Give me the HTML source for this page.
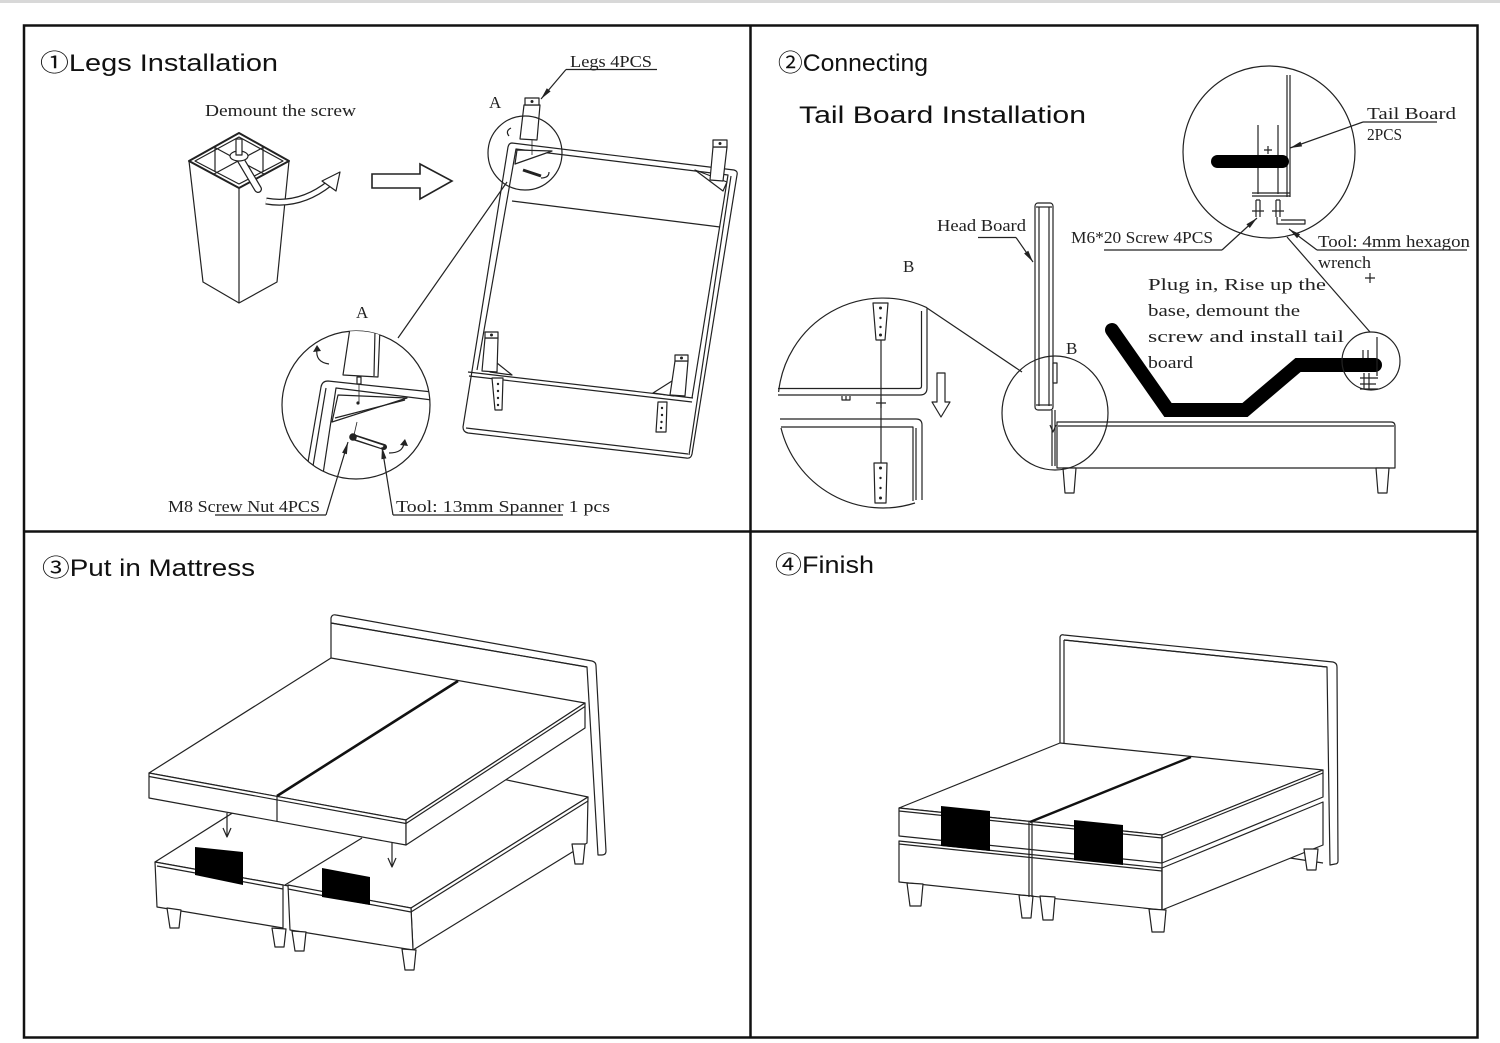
<!DOCTYPE html>
<html><head><meta charset="utf-8"><title>Bed Installation</title>
<style>
html,body{margin:0;padding:0;background:#fff;}
svg{display:block;}
.l{stroke:#222;stroke-width:1.2;fill:none;stroke-linejoin:round;}
.w{stroke:#222;stroke-width:1.2;fill:#fff;stroke-linejoin:round;}
.t{font-family:"Liberation Sans","Noto Sans CJK JP",sans-serif;font-size:24px;fill:#111;}
.s{font-family:"Liberation Serif","Noto Serif CJK SC",serif;font-size:17px;fill:#222;}
</style></head>
<body>
<svg width="1500" height="1043" viewBox="0 0 1500 1043" xmlns="http://www.w3.org/2000/svg">
<rect x="0" y="0" width="1500" height="1043" fill="#fff"/>
<line x1="0" y1="1.5" x2="1500" y2="1.5" stroke="#d8d8d8" stroke-width="3"/>
<!-- frame -->
<rect x="24" y="25.5" width="1453.5" height="1012" fill="none" stroke="#111" stroke-width="2.5"/>
<line x1="750.5" y1="25" x2="750.5" y2="1038" stroke="#111" stroke-width="2.5"/>
<line x1="24" y1="531.5" x2="1478" y2="531.5" stroke="#111" stroke-width="2.5"/>

<!-- titles -->
<text class="t" x="40" y="71" textLength="238" lengthAdjust="spacingAndGlyphs">①Legs Installation</text>
<text class="t" x="778" y="71" textLength="150" lengthAdjust="spacingAndGlyphs">②Connecting</text>
<text class="t" x="799" y="123" textLength="287" lengthAdjust="spacingAndGlyphs">Tail Board Installation</text>
<text class="t" x="42" y="576" textLength="213" lengthAdjust="spacingAndGlyphs">③Put in Mattress</text>
<text class="t" x="775" y="573" textLength="99" lengthAdjust="spacingAndGlyphs">④Finish</text>

<!-- ================= PANEL 1 ================= -->
<text class="s" x="205" y="116" textLength="151" lengthAdjust="spacingAndGlyphs">Demount the screw</text>
<!-- leg -->
<g class="l">
  <path d="M189,161 L203,282 L239,303 L277,282 L289,161"/>
  <line x1="239" y1="188" x2="239" y2="303"/>
  <polygon points="189,161 239,133 289,161 239,188" stroke-width="2"/>
  <polygon points="195,161 239,137 283,161 239,184"/>
  <line x1="214" y1="147" x2="264" y2="174"/>
  <line x1="264" y1="147" x2="214" y2="174"/>
  <line x1="215" y1="148" x2="215" y2="172"/>
  <line x1="263" y1="148" x2="263" y2="172"/>
</g>
<line x1="239" y1="157" x2="258" y2="189" stroke="#222" stroke-width="8" stroke-linecap="round"/>
<line x1="239" y1="157" x2="258" y2="189" stroke="#fff" stroke-width="5.5" stroke-linecap="round"/>
<ellipse cx="239" cy="156" rx="9" ry="5" class="w"/>
<rect x="236" y="139" width="6" height="16" class="w"/>
<!-- curved arrow -->
<path d="M266,201 Q300,207 330,183" stroke="#222" stroke-width="7" fill="none"/>
<path d="M266,201 Q300,207 330,183" stroke="#fff" stroke-width="4.5" fill="none"/>
<polygon points="340,172 336,191 322,181" class="w"/>
<!-- big hollow arrow -->
<polygon points="372,174 420,174 420,164 452,181 420,199 420,188 372,188" fill="none" stroke="#222" stroke-width="1.6"/>

<!-- bed frame (upside down) -->
<path class="w" d="M512,143 L734,170 Q738,171 737,175 L692,454 Q691,459 686,458 L468,433 Q463,432 463,427 L508,147 Q509,143 512,143 Z" stroke-width="1.5"/>
<g class="l">
  <path d="M477,370 L516,149 L728,175 L692,398"/>
  <line x1="731" y1="176" x2="689" y2="455"/>
  <line x1="468" y1="372" x2="693" y2="398"/>
  <line x1="469" y1="376" x2="692" y2="402"/>
  <line x1="466" y1="428" x2="688" y2="454"/>
  <line x1="512" y1="201" x2="720" y2="227"/>
</g>
<!-- brackets -->
<polygon class="w" points="517,150 552,151 515,164"/>
<polygon class="w" points="695,170 727,182 723,191"/>
<polygon class="w" points="497,363 512,375 490,372"/>
<polygon class="w" points="653,393 672,381 674,396"/>
<!-- legs on frame -->
<g>
  <polygon class="w" points="713,147 727,147 723,181 710,180"/>
  <rect class="w" x="713" y="140" width="14" height="7"/>
  <circle cx="720" cy="143.5" r="1.5" fill="#222"/>
  <polygon class="w" points="485,338 498,338 497,372 482,371"/>
  <rect class="w" x="485" y="332" width="13" height="6"/>
  <circle cx="491.5" cy="335" r="1.5" fill="#222"/>
  <polygon class="w" points="675,361 688,361 685,396 670,395"/>
  <rect class="w" x="675" y="355" width="13" height="6"/>
  <circle cx="681.5" cy="358" r="1.5" fill="#222"/>
  <!-- hovering leg -->
  <polygon class="w" points="524,105 540,105 537,140 520,139"/>
  <rect class="w" x="525" y="98" width="14" height="7"/>
  <circle cx="532" cy="101.5" r="1.5" fill="#222"/>
</g>
<!-- strips -->
<polygon class="w" points="492,378 503,378 502,410 495,410"/>
<g fill="#222"><circle cx="498" cy="384" r="1.2"/><circle cx="498" cy="391" r="1.2"/><circle cx="498" cy="398" r="1.2"/><circle cx="498" cy="405" r="1.2"/></g>
<polygon class="w" points="658,402 667,402 666,432 656,432"/>
<g fill="#222"><circle cx="662" cy="408" r="1.2"/><circle cx="662" cy="415" r="1.2"/><circle cx="661.5" cy="422" r="1.2"/><circle cx="661" cy="428" r="1.2"/></g>
<!-- upper circle A -->
<circle cx="525" cy="153" r="37" class="l"/>
<line x1="532" y1="140" x2="532" y2="155" stroke="#222" stroke-width="0.8"/>
<line x1="523" y1="170" x2="541" y2="176" stroke="#222" stroke-width="3"/>
<path d="M511,128 Q505,131 509,136" class="l" stroke-width="2"/>
<path d="M541,178 Q549,178 549,172" class="l" stroke-width="2"/>
<text class="s" x="489" y="108">A</text>
<line x1="507" y1="182" x2="398" y2="338" class="l"/>

<!-- lower circle A -->
<defs><clipPath id="cA"><circle cx="356" cy="405" r="74"/></clipPath></defs>
<circle cx="356" cy="405" r="74" class="l"/>
<g clip-path="url(#cA)">
  <path class="l" d="M308,462 L321,387 Q322,381 328,381 L432,392"/>
  <path class="l" d="M313,466 L326,388"/>
  <path class="l" d="M323,474 L336,388 L432,400"/>
  <polygon class="w" points="338,395 407,398 332,422"/>
  <line x1="335" y1="418" x2="405" y2="400" class="l"/>
  <polygon class="w" points="350,328 380,328 378,377 343,375"/>
  <line x1="375" y1="330" x2="374" y2="376" class="l"/>
  <line x1="359" y1="377" x2="359" y2="403" stroke="#222" stroke-width="0.8"/>
  <rect x="357" y="377" width="4" height="7" class="w"/>
  <circle cx="358" cy="403" r="1.6" fill="#222"/>
  <line x1="357" y1="422" x2="354" y2="435" stroke="#222" stroke-width="0.8"/>
  <line x1="353" y1="437" x2="384" y2="447" stroke="#222" stroke-width="6" stroke-linecap="round"/>
  <line x1="356" y1="438" x2="383" y2="447" stroke="#fff" stroke-width="3"/>
  <circle cx="353" cy="437" r="3.8" fill="#222"/>
  <path d="M329,364 Q315,362 317,349" class="l" stroke-width="2.5"/>
  <polygon points="317,345 313,352 321,351" fill="#222"/>
  <path d="M389,453 Q403,453 404,443" class="l" stroke-width="2.5"/>
  <polygon points="405,439 400,445 408,446" fill="#222"/>
</g>
<text class="s" x="356" y="318">A</text>

<!-- panel 1 labels & leaders -->
<text class="s" x="570" y="67" textLength="82" lengthAdjust="spacingAndGlyphs">Legs 4PCS</text>
<line x1="566" y1="69.5" x2="657" y2="69.5" class="l"/>
<line x1="566" y1="69.5" x2="541" y2="99" class="l"/>
<polygon points="541,99 550.6,91.4 546.8,88.2" fill="#222"/>
<text class="s" x="168" y="512" textLength="152" lengthAdjust="spacingAndGlyphs">M8 Screw Nut 4PCS</text>
<line x1="215" y1="515" x2="326" y2="515" class="l"/>
<line x1="326" y1="515" x2="348" y2="442" class="l"/>
<polygon points="348,442 346.9,454.2 342.1,452.8" fill="#222"/>
<text class="s" x="396" y="512" textLength="214" lengthAdjust="spacingAndGlyphs">Tool: 13mm Spanner 1 pcs</text>
<line x1="393" y1="515" x2="563" y2="515" class="l"/>
<line x1="393" y1="515" x2="382" y2="447" class="l"/>
<polygon points="382,447 386.4,458.4 381.4,459.2" fill="#222"/>

<!-- ================= PANEL 2 ================= -->
<!-- big B circle -->
<path class="l" d="M778.6,392 A105,105 0 0 1 927,307.7"/>
<path class="l" d="M778,395 L920,395 Q927,395 927,388 L927,307.7"/>
<path class="l" d="M778,388.5 L919,388.5 Q921.5,388.5 921.5,386 L921.5,311"/>
<path class="l" d="M781,428 A105,105 0 0 0 915,503"/>
<path class="l" d="M780,419 L916,419 Q922,419 922,425 L922,500"/>
<path class="l" d="M781,427 L913,427 L913,501"/>
<line x1="916" y1="428" x2="916" y2="500" class="l"/>
<polygon class="w" points="873,303 888,303 885,340 876,340"/>
<polygon class="w" points="874,463 887,463 886,503 875,503"/>
<g fill="#222"><circle cx="880.5" cy="308" r="1.5"/><circle cx="880.5" cy="318" r="1.2"/><circle cx="880.5" cy="327" r="1.2"/><circle cx="880.5" cy="335" r="1.5"/>
<circle cx="880.5" cy="468" r="1.5"/><circle cx="880.5" cy="478" r="1.2"/><circle cx="880.5" cy="488" r="1.2"/><circle cx="880.5" cy="498" r="1.5"/></g>
<line x1="881" y1="340" x2="881" y2="463" class="l" stroke-width="0.9"/>
<path class="l" d="M876,403 L886,403 M881,398 L881,408"/>
<path class="l" d="M842,396 L842,400 L850,400 L850,396 M846,396 L846,400"/>
<polygon points="937,373 945,373 945,402 950,402 941,417 932,402 937,402" class="l"/>
<line x1="927" y1="308" x2="1022" y2="372" class="l"/>
<text class="s" x="903" y="272">B</text>

<!-- headboard & base -->
<rect x="1035" y="203" width="18" height="207" rx="3" class="w"/>
<line x1="1039" y1="207" x2="1039" y2="406" class="l"/>
<line x1="1049" y1="207" x2="1049" y2="406" class="l"/>
<line x1="1036" y1="207" x2="1052" y2="207" class="l"/>
<line x1="1036" y1="405" x2="1052" y2="405" class="l"/>
<rect x="1053" y="363" width="4" height="20" class="w"/>
<line x1="1052" y1="410" x2="1052" y2="466" class="l"/>
<line x1="1055" y1="410" x2="1055" y2="466" class="l"/>
<path class="l" d="M1050,425 L1053,432 L1056,425"/>
<path class="w" d="M1057,422 L1391,422 Q1395,422 1395,426 L1395,468 L1057,468 Z"/>
<line x1="1058" y1="426" x2="1394" y2="426" class="l"/>
<polygon class="w" points="1063,468 1076,468 1074,493 1065,493"/>
<polygon class="w" points="1376,468 1389,468 1387,493 1378,493"/>
<ellipse cx="1055" cy="413" rx="53" ry="57" class="l"/>
<text class="s" x="1066" y="354">B</text>
<text class="s" x="937" y="231" textLength="89" lengthAdjust="spacingAndGlyphs">Head Board</text>
<line x1="978" y1="237.5" x2="1016" y2="237.5" class="l"/>
<line x1="1016" y1="237.5" x2="1033" y2="262" class="l"/>
<polygon points="1033,262 1028.3,250.7 1024.1,253.5" fill="#222"/>

<!-- black profile -->
<polyline points="1112,330 1168,410 1245,410 1298,365 1375,365" fill="none" stroke="#000" stroke-width="14" stroke-linecap="round" stroke-linejoin="miter"/>

<!-- top detail circle -->
<circle cx="1269" cy="152" r="86" class="l"/>
<line x1="1287" y1="75" x2="1287" y2="197" class="l"/>
<line x1="1290" y1="75" x2="1290" y2="197" class="l"/>
<line x1="1258" y1="125" x2="1258" y2="194" class="l" stroke-width="0.9"/>
<line x1="1278" y1="125" x2="1278" y2="194" class="l" stroke-width="0.9"/>
<rect x="1211" y="155" width="78" height="13" rx="6.5" fill="#000"/>
<path class="l" d="M1264,150 L1272,150 M1268,146 L1268,154"/>
<line x1="1252" y1="193" x2="1290" y2="193" class="l"/>
<line x1="1252" y1="196" x2="1290" y2="196" class="l"/>
<g class="l">
  <path d="M1256,200 L1256,217 M1260,200 L1260,217 M1252,211 L1264,211 M1256,200 L1260,200"/>
  <path d="M1276,200 L1276,217 M1280,200 L1280,217 M1272,211 L1284,211 M1276,200 L1280,200"/>
  <path d="M1277,217 L1277,224 L1305,224 L1305,220 L1281,220"/>
</g>
<text class="s" x="1367" y="119" textLength="89" lengthAdjust="spacingAndGlyphs">Tail Board</text>
<text class="s" x="1367" y="140" textLength="35" lengthAdjust="spacingAndGlyphs">2PCS</text>
<line x1="1363" y1="122" x2="1437" y2="122" class="l"/>
<line x1="1363" y1="122" x2="1290" y2="148" class="l"/>
<polygon points="1290,148 1302.1,146.4 1300.5,141.6" fill="#222"/>
<text class="s" x="1071" y="243" textLength="142" lengthAdjust="spacingAndGlyphs">M6*20 Screw 4PCS</text>
<line x1="1104" y1="250" x2="1222" y2="250" class="l"/>
<line x1="1222" y1="250" x2="1257" y2="218" class="l"/>
<polygon points="1257,218 1249.8,228 1246.4,224.3" fill="#222"/>
<text class="s" x="1318" y="247" textLength="152" lengthAdjust="spacingAndGlyphs">Tool: 4mm hexagon</text>
<text class="s" x="1318" y="268" textLength="53" lengthAdjust="spacingAndGlyphs">wrench</text>
<line x1="1317" y1="250" x2="1467" y2="250" class="l"/>
<line x1="1317" y1="250" x2="1289" y2="229" class="l"/>
<polygon points="1289,229 1300.1,234.2 1297.1,238.2" fill="#222"/>
<path class="l" d="M1365,278 L1375,278 M1370,273 L1370,283"/>
<line x1="1287" y1="237" x2="1370" y2="332" class="l"/>
<text class="s" x="1148" y="290" textLength="178" lengthAdjust="spacingAndGlyphs">Plug in, Rise up the</text>
<text class="s" x="1148" y="316" textLength="152" lengthAdjust="spacingAndGlyphs">base, demount the</text>
<text class="s" x="1148" y="342" textLength="196" lengthAdjust="spacingAndGlyphs">screw and install tail</text>
<text class="s" x="1148" y="368" textLength="45" lengthAdjust="spacingAndGlyphs">board</text>
<!-- small circle -->
<circle cx="1371" cy="361" r="29" class="l"/>
<line x1="1377" y1="337" x2="1377" y2="376" class="l"/>
<line x1="1363" y1="350" x2="1363" y2="358" class="l"/>
<line x1="1368" y1="350" x2="1368" y2="358" class="l"/>
<path class="l" d="M1364,373 L1364,389 M1369,373 L1369,389 M1360,378 L1378,378 M1360,384 L1376,384 M1360,389 L1378,389"/>

<!-- ================= PANEL 3 ================= -->
<!-- headboard -->
<path class="w" d="M331,660 L331,618 Q332,614 336,615 L592,661 Q596,662 596,666 L606,851 Q606,855 602,855 L598,855 L587,667 L331,623"/>
<line x1="331" y1="623" x2="587" y2="667" class="l"/>
<!-- base -->
<polygon class="w" points="155,862 340,745 588,797 411,908"/>
<polygon class="w" points="411,908 588,797 587,843 413,950"/>
<line x1="411" y1="912" x2="588" y2="801" class="l"/>
<polygon class="w" points="155,862 283,885 283,928 157,907"/>
<polygon class="w" points="288,885 411,908 413,950 290,930"/>
<line x1="157" y1="866" x2="283" y2="889" class="l"/>
<line x1="288" y1="889" x2="411" y2="912" class="l"/>
<line x1="285" y1="885" x2="362" y2="838" class="l"/>
<!-- legs -->
<g class="w">
  <polygon points="167,908 181,910 179,928 170,928"/>
  <polygon points="272,928 286,929 284,947 275,947"/>
  <polygon points="292,931 306,932 304,951 295,951"/>
  <polygon points="402,949 416,950 414,970 405,970"/>
  <polygon points="572,844 585,844 583,864 575,864"/>
</g>
<!-- black patches -->
<polygon points="195,847 243,852 243,885 195,875" fill="#000"/>
<polygon points="322,868 370,877 370,905 322,897" fill="#000"/>
<!-- mattress -->
<polygon class="w" points="149,773 331,658 585,703 406,820" stroke-width="1.4"/>
<polygon class="w" points="149,773 406,820 406,845 149,798"/>
<polygon class="w" points="406,820 585,703 585,728 406,845"/>
<line x1="149" y1="776.5" x2="406" y2="823.5" class="l"/>
<line x1="406" y1="823.5" x2="585" y2="706.5" class="l"/>
<line x1="277" y1="796" x2="458" y2="681" stroke="#111" stroke-width="2.6"/>
<line x1="277" y1="796" x2="277" y2="821" class="l"/>
<!-- arrows -->
<line x1="227" y1="813" x2="227" y2="836" class="l"/>
<path class="l" d="M223,828 L227,837 L231,828"/>
<line x1="392" y1="842" x2="392" y2="866" class="l"/>
<path class="l" d="M388,858 L392,867 L396,858"/>

<!-- ================= PANEL 4 ================= -->
<path class="w" d="M1060,743 L1060,637 Q1061,634 1064,635 L1333,662 Q1337,663 1337,667 L1338,861 Q1338,864 1335,864 L1330,865 L1327,667 L1064,640"/>
<line x1="1064" y1="640" x2="1327" y2="667" class="l"/>
<line x1="1064" y1="640" x2="1064" y2="745" class="l"/>
<line x1="1290" y1="858" x2="1323" y2="863" class="l"/>
<!-- base -->
<polygon class="w" points="899,841 1162,868 1162,910 899,882"/>
<polygon class="w" points="1162,868 1323,802 1323,845 1162,910"/>
<line x1="899" y1="844" x2="1162" y2="871" class="l"/>
<g class="w">
  <polygon points="907,883 923,884 921,906 910,906"/>
  <polygon points="1019,895 1033,896 1031,918 1022,918"/>
  <polygon points="1040,896 1055,897 1053,920 1043,920"/>
  <polygon points="1149,909 1166,910 1164,932 1152,932"/>
  <polygon points="1304,849 1318,849 1316,870 1307,870"/>
</g>
<!-- mattress -->
<polygon class="w" points="899,808 1060,743 1323,770 1162,835" stroke-width="1.4"/>
<polygon class="w" points="899,808 1162,835 1162,863 899,836"/>
<polygon class="w" points="1162,835 1323,770 1323,797 1162,863"/>
<line x1="899" y1="811" x2="1162" y2="838" class="l"/>
<line x1="1162" y1="838" x2="1323" y2="773" class="l"/>
<line x1="1030" y1="822" x2="1191" y2="757" stroke="#111" stroke-width="2.4"/>
<line x1="1029" y1="822" x2="1029" y2="897" class="l"/>
<line x1="1032" y1="822" x2="1032" y2="897" class="l"/>
<!-- black patches -->
<polygon points="941,806 990,811 990,851 941,846" fill="#000"/>
<polygon points="1074,820 1123,825 1123,865 1074,860" fill="#000"/>
<line x1="1162" y1="835" x2="1162" y2="910" class="l"/>
</svg>
</body></html>
